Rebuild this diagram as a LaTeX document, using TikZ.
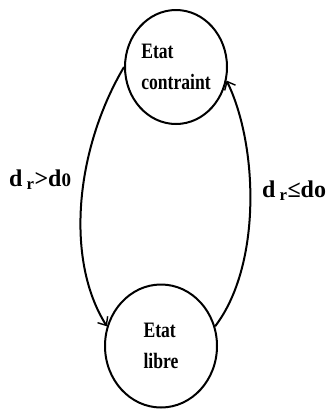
\documentclass[tikz,border=0pt]{standalone}
\usepackage{fontspec}
\usepackage{tikz}
\usetikzlibrary{arrows.meta,shapes.geometric}
\newfontfamily\etatfont[FakeStretch=0.8]{Liberation Serif}
\newfontfamily\lblfont{Liberation Serif}
\tikzset{
  etat/.style={draw=black, ellipse, line width=2pt, inner sep=0pt, align=left,
    font=\etatfont\bfseries\fontsize{22}{31}\selectfont},
  trans/.style={-{Straight Barb[length=7pt, width=12pt, line width=1.4pt]}, line width=2pt, draw=black},
  lbl/.style={font=\lblfont\bfseries\fontsize{24}{26}\selectfont, inner sep=0pt},
}
\begin{document}
\begin{tikzpicture}[x=1pt, y=-1pt]
\useasboundingbox (0,0) rectangle (331,410);

\node[etat, minimum width=102pt, minimum height=114pt] (c_contr) at (176,67) {Etat\\contraint};
\node[etat, minimum width=112pt, minimum height=123pt] (c_libre) at (161,346) {Etat\\libre};

\draw[trans] (c_contr.180) .. controls (75,150) and (65,260) .. (c_libre.160);
\draw[trans] (c_libre.20) .. controls (262,265) and (258,145) .. (c_contr.345);

\node[lbl, anchor=base west] (l_sup) at (9,186) {d\,\textsubscript{r}>d{\fontsize{19}{19}\selectfont 0}};
\node[lbl, anchor=base west] (l_inf) at (262,197) {d\,\textsubscript{r}≤do};

\end{tikzpicture}
\end{document}
